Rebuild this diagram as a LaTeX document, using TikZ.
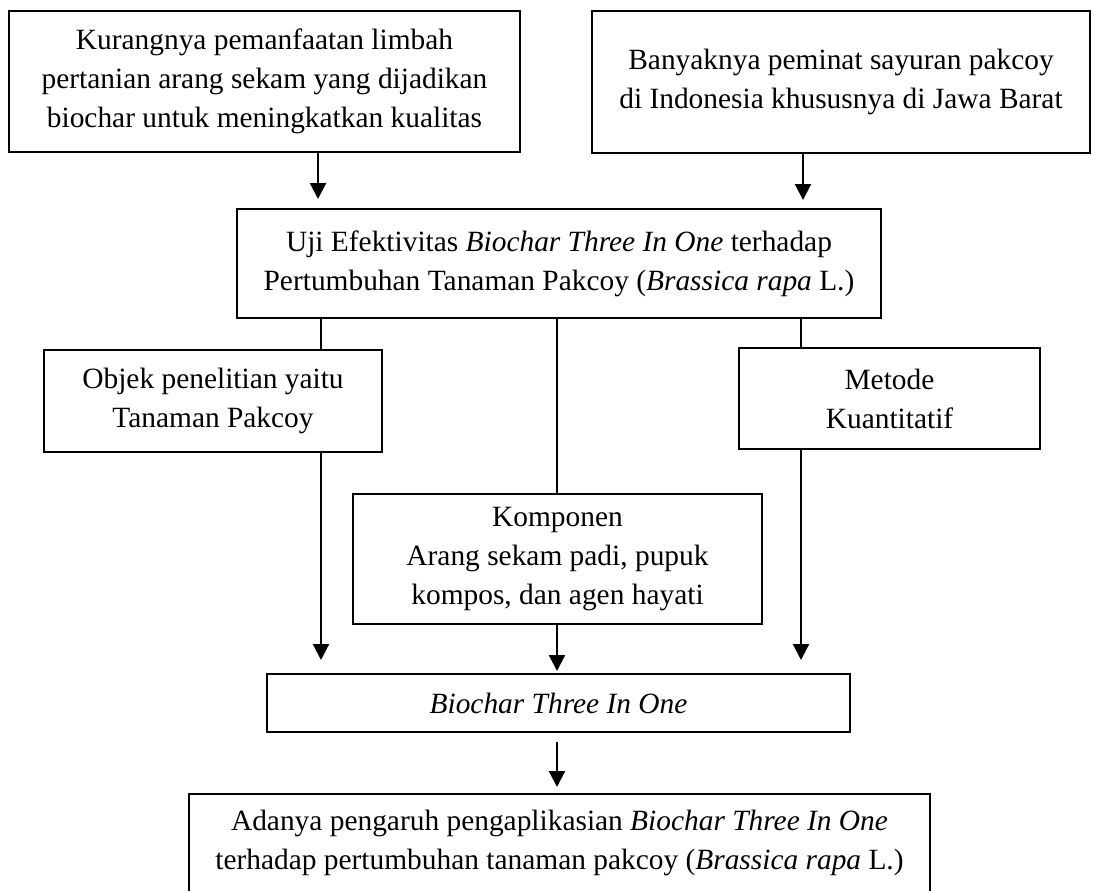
\documentclass[tikz,border=0pt]{standalone}
\usepackage{fontspec}
\setmainfont{Liberation Serif}
\usetikzlibrary{arrows.meta}
\begin{document}
\begin{tikzpicture}[x=0.5pt,y=-0.5pt,
  box/.style={draw,line width=1.1pt,rectangle,inner sep=0pt,align=center,
    font={\fontsize{14.7}{19.5}\selectfont}},
  con/.style={line width=1.1pt},
  arr/.style={line width=1.1pt,-{Triangle[width=8pt,length=8pt]}}]
\useasboundingbox (0,0) rectangle (1093,890);
% boxes
\node[box,minimum width=511*0.5pt,minimum height=141*0.5pt] (b1) at (264.5,81.5)
  {Kurangnya pemanfaatan limbah\\pertanian arang sekam yang dijadikan\\biochar untuk meningkatkan kualitas};
\node[box,minimum width=498*0.5pt,minimum height=142*0.5pt] (b2) at (841,82)
  {Banyaknya peminat sayuran pakcoy\\di Indonesia khususnya di Jawa Barat};
\node[box,minimum width=644*0.5pt,minimum height=109*0.5pt] (b3) at (559,263.5)
  {Uji Efektivitas \textit{Biochar Three In One} terhadap\\Pertumbuhan Tanaman Pakcoy (\textit{Brassica rapa} L.)};
\node[box,minimum width=338*0.5pt,minimum height=102*0.5pt] (b4) at (213,401)
  {Objek penelitian yaitu\\Tanaman Pakcoy};
\node[box,minimum width=301*0.5pt,minimum height=101*0.5pt] (b6) at (889.5,398.5)
  {Metode\\Kuantitatif};
\node[box,minimum width=409*0.5pt,minimum height=130*0.5pt] (b5) at (557.5,559)
  {Komponen\\Arang sekam padi, pupuk\\kompos, dan agen hayati};
\node[box,minimum width=583*0.5pt,minimum height=58*0.5pt] (b7) at (558.5,703)
  {\textit{Biochar Three In One}};
\node[box,minimum width=741*0.5pt,minimum height=98*0.5pt] (b8) at (559.5,843)
  {Adanya pengaruh pengaplikasian \textit{Biochar Three In One}\\terhadap pertumbuhan tanaman pakcoy (\textit{Brassica rapa} L.)};
% free arrow ends
\coordinate (t1) at (318,199);
\coordinate (t2) at (803,200);
\coordinate (t3) at (321,660);
\coordinate (t4) at (557,671);
\coordinate (t5) at (801,660);
\coordinate (s6) at (557,742);
\coordinate (t6) at (557,787);
% connectors
\draw[arr] (b1.south -| t1) -- (t1);
\draw[arr] (b2.south -| t2) -- (t2);
\draw[con] (b3.south -| t3) -- (b4.north -| t3);
\draw[con] (b3.south -| t4) -- (b5.north -| t4);
\draw[con] (b3.south -| t5) -- (b6.north -| t5);
\draw[arr] (b4.south -| t3) -- (t3);
\draw[arr] (b5.south -| t4) -- (t4);
\draw[arr] (b6.south -| t5) -- (t5);
\draw[arr] (s6) -- (t6);
\end{tikzpicture}
\end{document}
